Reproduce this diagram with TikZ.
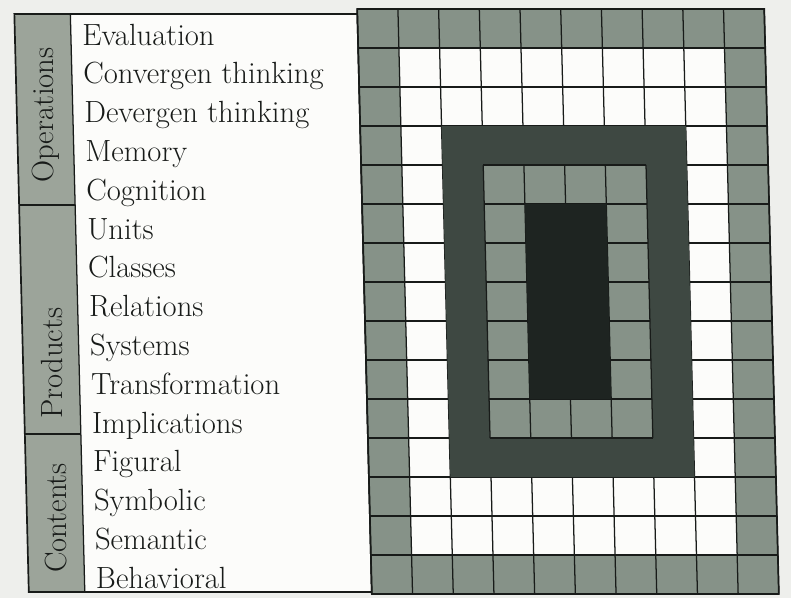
\documentclass[tikz,border=0pt]{standalone}
\usepackage{tikz}
\definecolor{paper}{RGB}{238,239,236}
\definecolor{ink}{RGB}{24,27,25}
\definecolor{midgrey}{RGB}{134,146,136}
\definecolor{stripgrey}{RGB}{156,164,154}
\definecolor{darkgrey}{RGB}{62,72,66}
\definecolor{coregrey}{RGB}{30,36,33}
\definecolor{cellwhite}{RGB}{252,252,250}
\newcommand{\listsize}{\fontsize{21.8}{25}\selectfont}

\begin{document}
\begin{tikzpicture}[x=0.025cm,y=-0.025cm,
    factor/.style={anchor=base west,inner sep=0pt,font=\listsize,text=ink},
    dimension/.style={rotate=90,inner sep=0pt,font=\listsize,text=ink},
    rule/.style={ink,line width=0.9pt}]
  % page
  \fill[paper] (0,0) rectangle (791,598);
  \useasboundingbox (0,0) rectangle (791,598);
  \begin{scope}[xslant=-0.025]
    % left panel
    \fill[cellwhite] (14,14) rectangle (357,592);
    \fill[stripgrey] (14,14) rectangle (70,592);
    \draw[rule] (14,205) -- (70,205) (14,434) -- (70,434);
    \draw[rule] (70,14) -- (70,592);
    \draw[rule,line width=1.2pt] (14,14) rectangle (357,592);
    % dimension labels
    \node[dimension] (operations) at (43,115) {Operations};
    \node[dimension] (products) at (43,363) {Products};
    \node[dimension] (contents) at (43,518) {Contents};
    % factors
    \node[factor] (evaluation) at (81,45) {Evaluation};
    \node[factor] (convergent) at (81,83.8) {Convergen thinking};
    \node[factor] (divergent) at (81,122.6) {Devergen thinking};
    \node[factor] (memory) at (81,161.4) {Memory};
    \node[factor] (cognition) at (81,200.2) {Cognition};
    \node[factor] (units) at (81,239) {Units};
    \node[factor] (classes) at (81,277.8) {Classes};
    \node[factor] (relations) at (81,316.6) {Relations};
    \node[factor] (systems) at (81,355.4) {Systems};
    \node[factor] (transformation) at (81,394.2) {Transformation};
    \node[factor] (implications) at (81,433) {Implications};
    \node[factor] (figural) at (81,471.8) {Figural};
    \node[factor] (symbolic) at (81,510.6) {Symbolic};
    \node[factor] (semantic) at (81,549.4) {Semantic};
    \node[factor] (behavioral) at (81,588.2) {Behavioral};
    % cube face: outer ring and white band
    \fill[midgrey] (357,9) rectangle (764,594);
    \fill[cellwhite] (397.7,48) rectangle (723.3,555);
    \foreach \i in {0,...,10}
      \draw[rule] ({357+40.7*\i},9) -- ({357+40.7*\i},594);
    \foreach \j in {0,...,15}
      \draw[rule] (357,{9+39*\j}) -- (764,{9+39*\j});
    % dark frame, inner grey ring, core
    \fill[darkgrey] (438.4,126) rectangle (682.6,477);
    \fill[midgrey] (479.1,165) rectangle (641.9,438);
    \foreach \i in {3,...,7}
      \draw[rule] ({357+40.7*\i},165) -- ({357+40.7*\i},438);
    \foreach \j in {4,...,11}
      \draw[rule] (479.1,{9+39*\j}) -- (641.9,{9+39*\j});
    \fill[coregrey] (519.8,204) rectangle (601.2,399);
    \draw[rule,line width=1.2pt] (357,9) rectangle (764,594);
  \end{scope}
\end{tikzpicture}
\end{document}
